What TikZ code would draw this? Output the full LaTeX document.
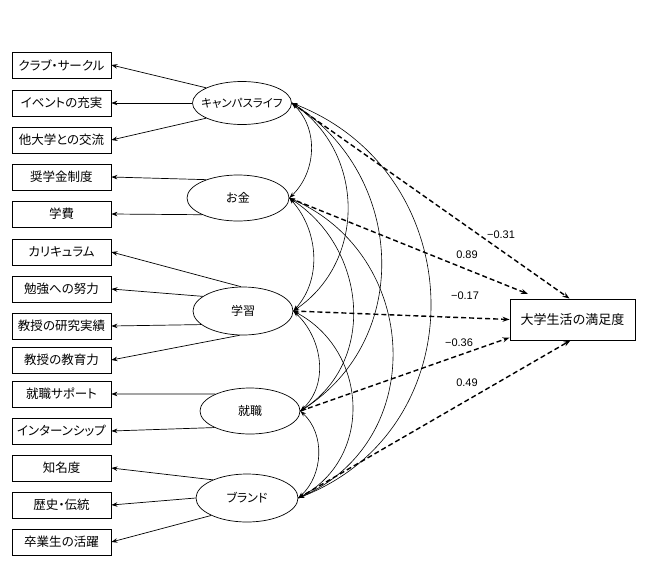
\documentclass[tikz,border=0pt]{standalone}
\usepackage{fontspec}
\setmainfont{Liberation Sans}
\newfontfamily\jp[RawFeature=+palt]{Noto Sans CJK JP}
\usetikzlibrary{shapes.geometric,arrows.meta,calc}
\begin{document}
\begin{tikzpicture}[x=1pt,y=-1pt,
  obs/.style={draw, line width=0.8pt, minimum width=99pt, minimum height=26pt, inner sep=0pt, font=\jp\fontsize{12.5}{14}\selectfont},
  outc/.style={draw, line width=0.9pt, minimum width=125pt, minimum height=41pt, inner sep=0pt, font=\jp\fontsize{13}{15}\selectfont},
  lat/.style={draw, ellipse, line width=0.7pt, minimum width=100pt, minimum height=46pt, inner sep=0pt},
  lattext/.style={font=\jp\fontsize{12}{14}\selectfont, inner sep=0pt},
  ind/.style={-{Stealth[length=6pt,width=4.5pt]}, line width=0.7pt},
  cov/.style={{Stealth[length=6pt,width=4pt]}-{Stealth[length=6pt,width=4pt]}, line width=0.6pt},
  reg/.style={-{Stealth[length=7pt,width=5pt]}, line width=1.4pt, dash pattern=on 5pt off 3pt},
  coef/.style={font=\fontsize{11}{13}\selectfont, inner sep=1pt}]
\useasboundingbox (0,0) rectangle (648,573);
% observed indicators
\node[obs] (b1) at (61.5,65) {クラブ・サークル};
\node[obs] (b2) at (61.5,103) {イベントの充実};
\node[obs] (b3) at (61.5,140) {他大学との交流};
\node[obs] (b4) at (61.5,177) {奨学金制度};
\node[obs] (b5) at (61.5,214) {学費};
\node[obs] (b6) at (61.5,252) {カリキュラム};
\node[obs] (b7) at (61.5,289) {勉強への努力};
\node[obs] (b8) at (61.5,326) {教授の研究実績};
\node[obs] (b9) at (61.5,360) {教授の教育力};
\node[obs] (b10) at (61.5,394) {就職サポート};
\node[obs] (b11) at (61.5,431) {インターンシップ};
\node[obs] (b12) at (61.5,468) {知名度};
\node[obs] (b13) at (61.5,505) {歴史・伝統};
\node[obs] (b14) at (61.5,542) {卒業生の活躍};
% latent variables
\node[lat, minimum width=99pt, minimum height=43pt] (cl) at (242,103) {};
\node[lattext] (clt) at (cl.center) {\fontsize{11.5}{13}\selectfont キャンパスライフ};
\node[lat, minimum width=102pt] (mo) at (238,198) {};
\node[lattext] (mot) at (mo.center) {お金};
\node[lat, minimum height=48pt] (st) at (243,311) {};
\node[lattext] (stt) at (st.center) {学習};
\node[lat] (jb) at (250,411) {};
\node[lattext] (jbt) at (jb.center) {就職};
\node[lat, minimum width=102pt, minimum height=48pt] (br) at (247,498) {};
\node[lattext] (brt) at (br.center) {ブランド};
% outcome
\node[outc] (sat) at (572.5,319.5) {大学生活の満足度};
\coordinate (moend) at (528,294);
% loadings
\draw[ind] (cl.157) -- (b1.east);
\draw[ind] (cl.180) -- (b2.east);
\draw[ind] (cl.203) -- (b3.east);
\draw[ind] (mo.150) -- (b4.east);
\draw[ind] (mo.205) -- (b5.east);
\draw[ind] (st.95) -- (b6.east);
\draw[ind] (st.160) -- (b7.east);
\draw[ind] (st.198) -- (b8.east);
\draw[ind] (st.262) -- (b9.east);
\draw[ind] (jb.154) -- (b10.east);
\draw[ind] (jb.205) -- (b11.east);
\draw[ind] (br.152) -- (b12.east);
\draw[ind] (br.180) -- (b13.east);
\draw[ind] (br.206) -- (b14.east);
% covariances
\draw[cov] (cl.east) .. controls +(27,26) and +(27,-26) .. (mo.east);
\draw[cov] (mo.east) .. controls +(29,32) and +(29,-32) .. (st.east);
\draw[cov] (st.east) .. controls +(29,27) and +(29,-27) .. (jb.east);
\draw[cov] (jb.east) .. controls +(25,23) and +(25,-23) .. (br.east);
\draw[cov] (cl.east) .. controls +(73,50) and +(73,-50) .. (st.east);
\draw[cov] (mo.east) .. controls +(77,50) and +(77,-50) .. (jb.east);
\draw[cov] (st.east) .. controls +(75,40) and +(75,-40) .. (br.east);
\draw[cov] (cl.east) .. controls +(113,72) and +(113,-72) .. (jb.east);
\draw[cov] (mo.east) .. controls +(131,57) and +(131,-57) .. (br.east);
\draw[cov] (cl.east) .. controls +(180,70) and +(180,-70) .. (br.east);
% regressions
\draw[reg] (cl.east) -- ($(sat.north)+(-3,0)$);
\draw[reg] (mo.east) -- (moend);
\draw[reg] (st.east) -- (sat.west);
\draw[reg] (jb.east) -- (sat.196);
\draw[reg] (br.east) -- ($(sat.south)+(-2,0)$);
% coefficients
\node[coef] (c1) at (501,235) {−0.31};
\node[coef] (c2) at (467,255) {0.89};
\node[coef] (c3) at (465,296) {−0.17};
\node[coef] (c4) at (459,343) {−0.36};
\node[coef] (c5) at (467,383) {0.49};
\end{tikzpicture}
\end{document}
